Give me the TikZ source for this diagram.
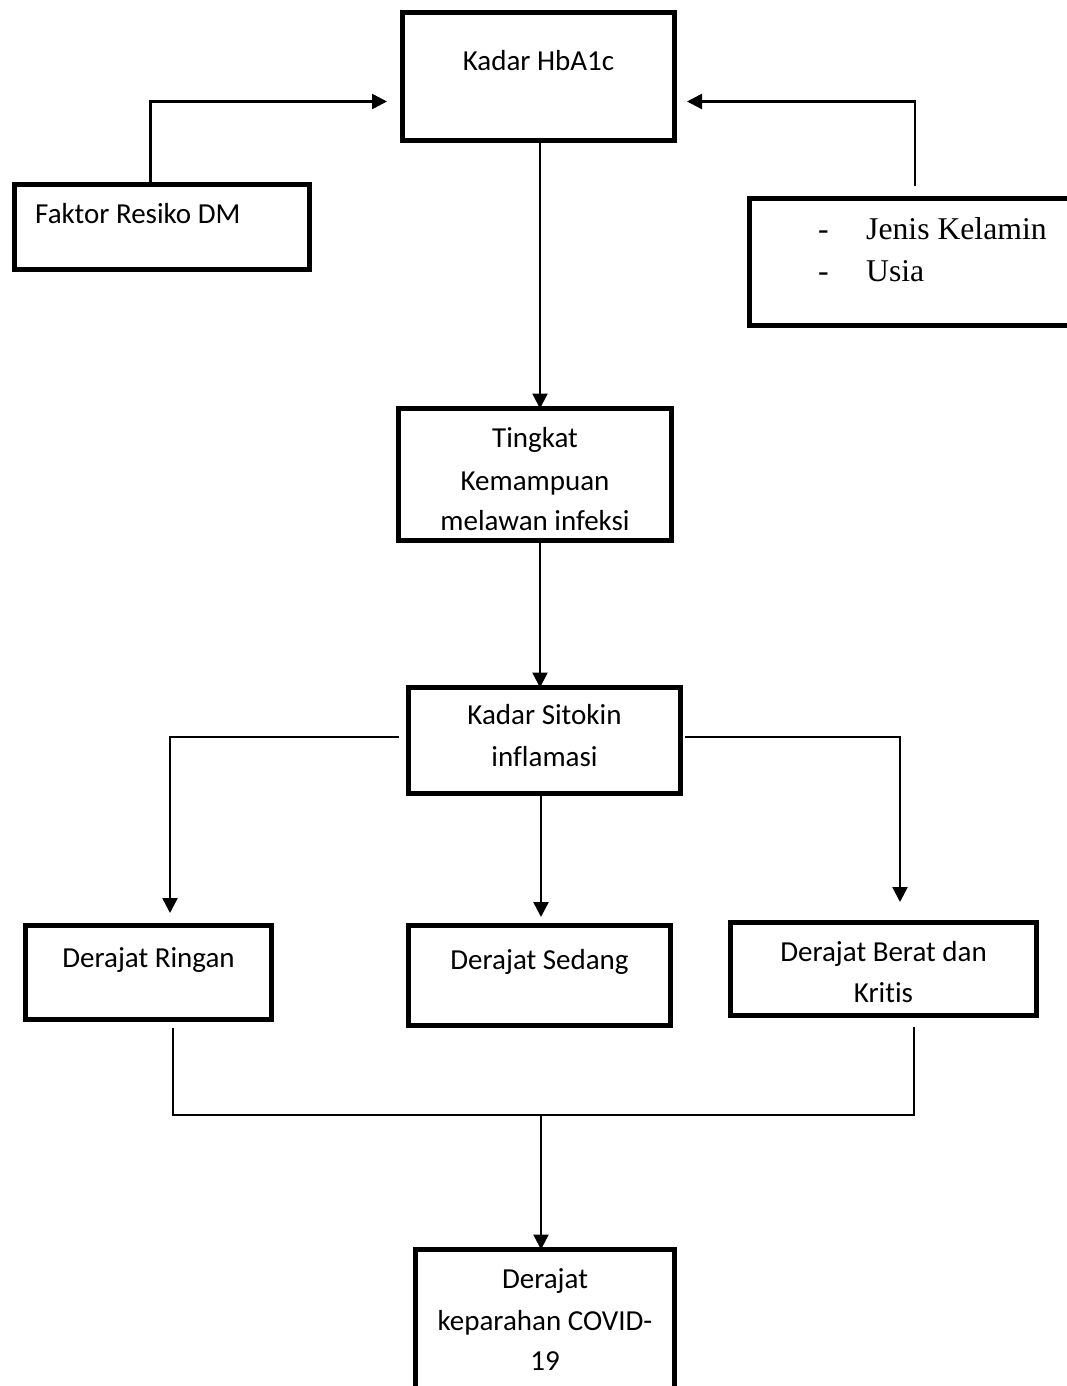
\documentclass[tikz,border=0pt]{standalone}
\usepackage{fontspec}
\setmainfont{Carlito}[Ligatures=NoCommon]
\newfontfamily\tnr{Liberation Serif}
\usetikzlibrary{arrows.meta}
\begin{document}
\begin{tikzpicture}[x=1pt,y=-1pt,
  box/.style={draw, line width=5pt, inner sep=0pt, outer sep=0pt},
  txt/.style={inner sep=0pt, font=\fontsize{29}{42}\selectfont},
  ttxt/.style={inner sep=0pt, font=\tnr\fontsize{31.7}{42}\selectfont},
  conn/.style={line width=2.5pt},
  arr/.style={conn, -{Triangle[length=15pt,width=15pt]}}]
\useasboundingbox (0,0) rectangle (1067,1386);
\fill[white] (0,0) rectangle (1067,1386);
% boxes
\node[box, minimum width=272, minimum height=128] (hb) at (538.5,76.5) {};
\node[box, minimum width=295, minimum height=85] (fk) at (162,227) {};
\node[box, minimum width=323, minimum height=127] (jk) at (911,262) {};
\node[box, minimum width=273, minimum height=132] (tk) at (535,474.5) {};
\node[box, minimum width=272, minimum height=106] (sk) at (544.5,740.5) {};
\node[box, minimum width=246, minimum height=94] (dr) at (148.5,972.5) {};
\node[box, minimum width=262, minimum height=100] (ds) at (539.5,975.5) {};
\node[box, minimum width=306, minimum height=93] (db) at (883.5,969) {};
\node[box, minimum width=259, minimum height=148] (dk) at (545,1323.5) {};
% texts
\node[txt, anchor=base] (thb) at (538.5,71) {Kadar HbA1c};
\node[txt, anchor=base west] (tfk) at (35,223) {Faktor Resiko DM};
\node[ttxt, anchor=base west] (tjd1) at (818,239) {-};
\node[ttxt, anchor=base west] (tj1) at (866,239) {Jenis Kelamin};
\node[ttxt, anchor=base west] (tjd2) at (818,281) {-};
\node[ttxt, anchor=base west] (tj2) at (866,281) {Usia};
\node[txt, anchor=base] (ttk1) at (535,447) {Tingkat};
\node[txt, anchor=base] (ttk2) at (535,490) {Kemampuan};
\node[txt, anchor=base] (ttk3) at (535,530) {melawan infeksi};
\node[txt, anchor=base] (tsk1) at (544.5,724) {Kadar Sitokin};
\node[txt, anchor=base] (tsk2) at (544.5,766) {inflamasi};
\node[txt, anchor=base] (tdr) at (148.5,967) {Derajat Ringan};
\node[txt, anchor=base] (tds) at (539.5,969) {Derajat Sedang};
\node[txt, anchor=base] (tdb1) at (883.5,961) {Derajat Berat dan};
\node[txt, anchor=base] (tdb2) at (883.5,1002) {Kritis};
\node[txt, anchor=base] (tdk1) at (545,1288) {Derajat};
\node[txt, anchor=base] (tdk2) at (545,1330) {keparahan COVID-};
\node[txt, anchor=base] (tdk3) at (545,1370) {19};
% connectors
\draw[arr] ([xshift=-11.5pt]fk.north) |- ([xshift=-15.5pt,yshift=-25pt]hb.west);
\draw[arr] ([xshift=4pt,yshift=12.5pt]jk.north) |- ([xshift=12.5pt,yshift=-25pt]hb.east);
\draw[arr] ([xshift=1.5pt]hb.south) -- ([xshift=1.5pt]hb.south |- tk.north);
\draw[arr] ([xshift=5pt]tk.south) -- ([xshift=5pt]tk.south |- sk.north);
\draw[arr] ([xshift=-10pt,yshift=3.5pt]sk.west) -| ([xshift=21.5pt,yshift=12.5pt]dr.north);
\draw[arr] ([xshift=4pt,yshift=3.5pt]sk.east) -| ([xshift=16.5pt,yshift=20.5pt]db.north);
\draw[arr] ([xshift=-3.5pt]sk.south) -- ([xshift=1.5pt,yshift=8.5pt]ds.north);
\coordinate (jn) at (541,1115);
\draw[conn] ([xshift=24.5pt,yshift=-8.5pt]dr.south) |- (jn) -| ([xshift=30.5pt,yshift=-11.5pt]db.south);
\draw[arr] (jn) -- (jn |- dk.north);
\end{tikzpicture}
\end{document}
